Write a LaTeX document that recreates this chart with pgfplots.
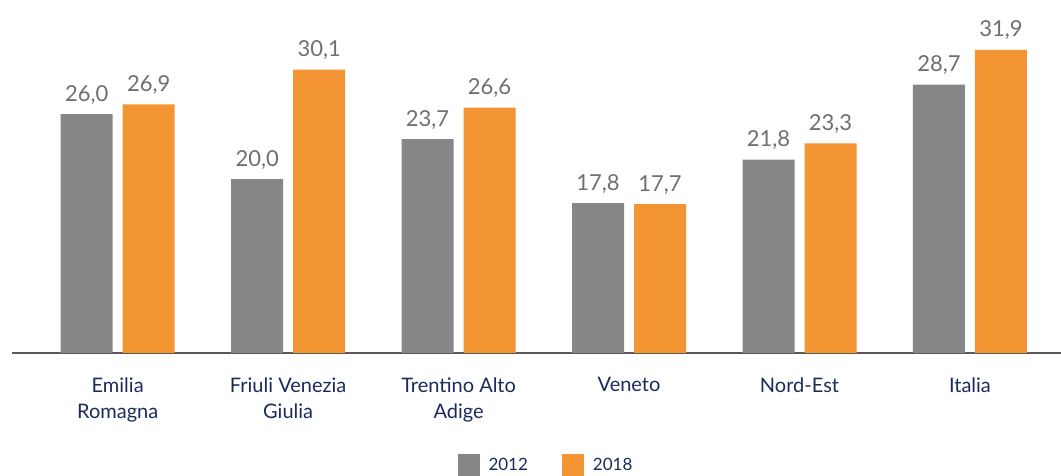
\documentclass[border=0pt]{standalone}
\usepackage{fontspec}
\setmainfont{Lato}
\usepackage{pgfplots}
\pgfplotsset{compat=1.18}
\definecolor{cgray}{HTML}{878787}
\definecolor{corange}{HTML}{F39533}
\definecolor{navy}{HTML}{1B2A5C}
\definecolor{valgray}{HTML}{6F6F6F}
\definecolor{axgray}{HTML}{5A5A5A}
\begin{document}
\begin{tikzpicture}
\useasboundingbox (-12pt,-123pt) rectangle (1049pt,353pt);
\begin{axis}[
  at={(0,0)}, anchor=south west,
  scale only axis, width=1049pt, height=353pt,
  xmin=-0.62, xmax=5.534, ymin=4, ymax=36.5,
  ybar, bar width=52pt,
  axis y line=none,
  axis x line=bottom,
  axis line style={-, draw=axgray, line width=1.5pt},
  xtick={0,...,5},
  xticklabels={{Emilia\\Romagna},{Friuli Venezia\\Giulia},{Trentino Alto\\Adige},Veneto,Nord-Est,Italia},
  major tick length=0pt,
  xticklabel style={align=center, font=\fontsize{20}{26}\selectfont, text=navy, anchor=north, yshift=-21pt},
  /pgf/number format/assume math mode=true,
  nodes near coords={\pgfmathprintnumber[fixed, fixed zerofill, precision=1, use comma, assume math mode=true]{\pgfplotspointmeta}},
  every node near coord/.append style={font=\fontsize{22}{26}\selectfont, text=valgray, anchor=base, yshift=13pt},
  legend columns=2,
  legend style={at={(axis description cs:0.509,0)}, anchor=center, yshift=-112pt, draw=none, inner sep=0pt,
    font=\fontsize{17}{20}\selectfont, text=navy,
    /tikz/every odd column/.append style={column sep=7pt},
    /tikz/every even column/.append style={column sep=32pt}},
  legend image code/.code={\fill[#1] (0pt,-11pt) rectangle (22pt,11pt);},
]
\addplot[fill=cgray, draw=none, bar shift=-31pt] coordinates {(0,26.0) (1,20.0) (2,23.7) (3,17.8) (4,21.8) (5,28.7)};
\addplot[fill=corange, draw=none, bar shift=31pt] coordinates {(0,26.9) (1,30.1) (2,26.6) (3,17.7) (4,23.3) (5,31.9)};
\legend{2012,2018}
\end{axis}
\end{tikzpicture}
\end{document}
